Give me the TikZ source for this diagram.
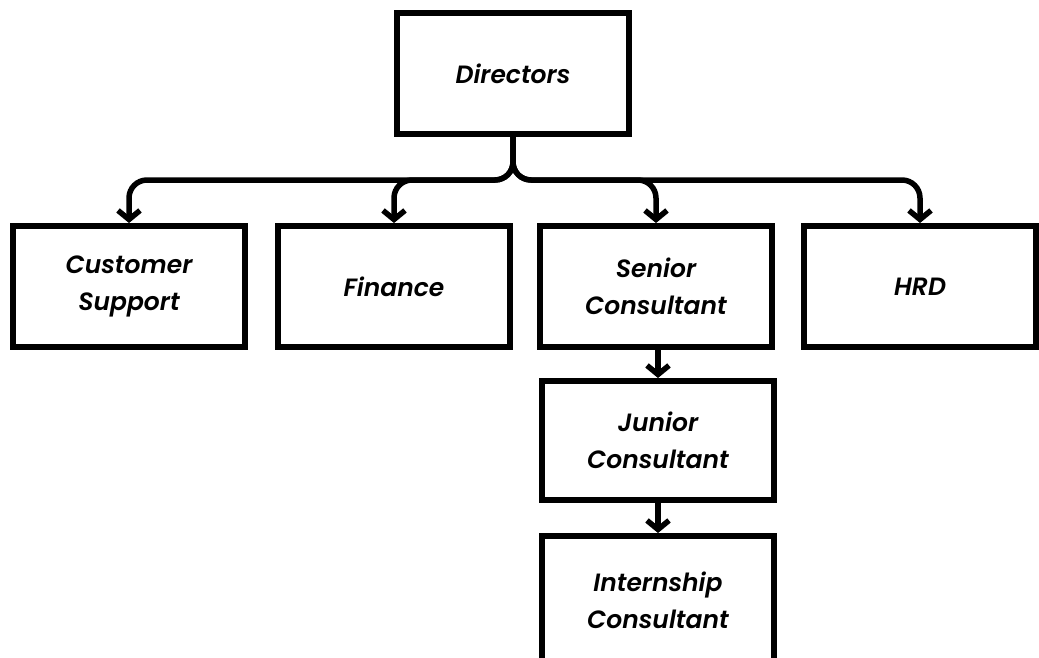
\documentclass[tikz,border=0pt]{standalone}
\usepackage{fontspec}
\setmainfont{Poppins}[BoldItalicFont={Poppins SemiBold Italic}]
\usetikzlibrary{arrows.meta}
\begin{document}
\begin{tikzpicture}[x=1pt,y=-1pt,
  box/.style={draw=black,line width=6pt,minimum width=232pt,minimum height=121pt,
    inner sep=0pt,align=center,font=\fontsize{25}{37}\selectfont\bfseries\itshape},
  conn/.style={draw=black,line width=5.5pt,rounded corners=18pt,
    -{Straight Barb[length=9pt,width=22pt]}}]
\useasboundingbox (0,0) rectangle (1039,657);
\begin{scope}
\clip (0,0) rectangle (1039,657);
\node[box] (dir) at (513,73.5) {Directors};
\node[box] (cs) at (129,286.5) {Customer\\Support};
\node[box] (fin) at (394,286.5) {Finance};
\node[box] (sen) at (656,286.5) {Senior\\Consultant};
\node[box] (hrd) at (920,286.5) {HRD};
\node[box,minimum height=119pt] (jun) at (658,440.5) {Junior\\Consultant};
\node[box,minimum height=134pt] (int) at (658,603) {\raisebox{6pt}{\begin{tabular}{@{}c@{}}Internship\\Consultant\end{tabular}}};
\end{scope}
\coordinate (bar) at (0,180);
\draw[conn] (dir.south) |- (bar -| cs.north) -- (cs.north);
\draw[conn] (dir.south) |- (bar -| fin.north) -- (fin.north);
\draw[conn] (dir.south) |- (bar -| sen.north) -- (sen.north);
\draw[conn] (dir.south) |- (bar -| hrd.north) -- (hrd.north);
\draw[conn] (sen.south -| jun.north) -- (jun.north);
\draw[conn] (jun.south) -- (int.north);
\end{tikzpicture}
\end{document}
